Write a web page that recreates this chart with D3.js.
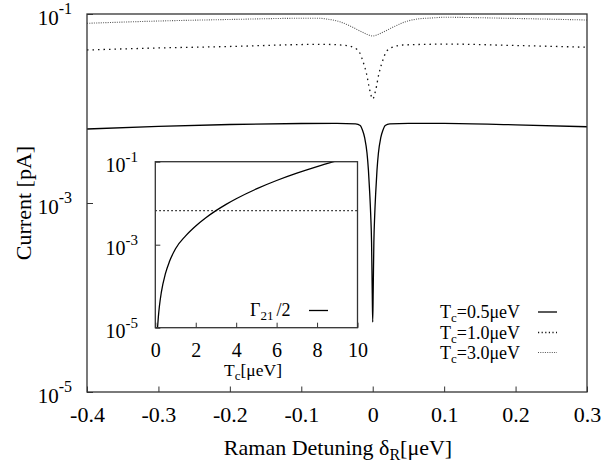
<!DOCTYPE html>
<html><head><meta charset="utf-8">
<script src="https://cdn.jsdelivr.net/npm/d3@7"></script>
<style>
body{margin:0;background:#fff}
svg text{font-family:"Liberation Serif","LiberationSerif","Tinos","DejaVu Serif","Noto Serif",serif !important;fill:#000}
</style>
</head><body>
<svg id="c" width="603" height="466"></svg>
<script>
// ---------- data ----------
const xTicks = [-0.4,-0.3,-0.2,-0.1,0,0.1,0.2,0.3];
const xTickLabels = ["-0.4","-0.3","-0.2","-0.1","0","0.1","0.2","0.3"];
const yTickExps = [-1,-3,-5];

const detuning05 = [-0.4,-0.3,-0.2,-0.1,-0.05,-0.024,-0.0175,-0.0144,-0.0112,-0.008,-0.006,-0.0042,-0.0028,-0.0016,-0.0007,0,
                    0.0007,0.0016,0.0028,0.0042,0.006,0.008,0.0112,0.0144,0.0175,0.024,0.05,0.1,0.2,0.3];
const current05  = [0.00607,0.00646,0.00677,0.00694,0.00697,0.00686,0.00661,0.00592,0.00488,0.00338,0.00223,0.00128,0.000746,0.000378,0.00012,0.000055,
                    0.00012,0.000378,0.000746,0.00128,0.00223,0.00338,0.00488,0.00592,0.00661,0.00686,0.00697,0.00697,0.00672,0.00641];

const detuning10 = [-0.4,-0.3,-0.2,-0.1,-0.074,-0.042,-0.0259,-0.0178,-0.014,-0.0086,-0.0042,0,
                    0.0042,0.0086,0.014,0.0178,0.0259,0.042,0.08,0.1,0.2,0.3];
const current10  = [0.0416,0.0437,0.0453,0.0475,0.0478,0.0468,0.0440,0.0384,0.0321,0.0232,0.0157,0.0126,
                    0.0157,0.0232,0.0321,0.0384,0.0440,0.0470,0.0478,0.0481,0.0464,0.0445];

const detuning30 = [-0.4,-0.3,-0.2,-0.1,-0.074,-0.065,-0.046,-0.0298,-0.0158,-0.0075,0,
                    0.0075,0.0158,0.0298,0.046,0.065,0.08,0.1,0.2,0.3];
const current30  = [0.0797,0.0843,0.0875,0.0901,0.0901,0.0885,0.0829,0.0734,0.0650,0.0607,0.0585,
                    0.0607,0.0650,0.0734,0.0829,0.0890,0.0905,0.0923,0.0897,0.0864];

const seriesNames = ["0.5","1.0","3.0"];

// inset
const insetXTicks = [0,2,4,6,8,10];
const insetYTickExps = [-1,-3,-5];
const insetTc   = [0.11,0.15,0.2,0.3,0.5,0.7,1.0,1.5,2.0,2.5,3.0,3.5,4.0,5.0,6.0,7.0,8.0,8.82,9.5];
const insetRate = [1.0e-5,1.8e-5,3.2e-5,7.2e-5,2.0e-4,3.92e-4,8.0e-4,1.63e-3,2.82e-3,4.46e-3,6.61e-3,9.37e-3,
                   1.28e-2,2.21e-2,3.52e-2,5.29e-2,7.62e-2,0.1,0.124];
const gammaTc   = [0,10];
const gammaHalf = [0.0066,0.0066];

// ---------- drawing ----------
const svg = d3.select("#c");
const L=87,R=587,T=14,B=392;
const x = d3.scaleLinear().domain([-0.4,0.3]).range([L,R]);
const y = d3.scaleLog().domain([1e-5,1e-1]).range([B,T]);

svg.append("defs").append("clipPath").attr("id","mainclip")
  .append("rect").attr("x",L).attr("y",T).attr("width",R-L).attr("height",B-T);

const styles = [
  {dash:null, color:"#000", w:1.3},
  {dash:"1.5,4", color:"#111", w:1.3},
  {dash:"1,1.3", color:"#555", w:1.1}
];
const legendDash = [null,"1.2,2.4","1,1.3"];

const line = d3.line().x(d=>x(d[0])).y(d=>y(d[1])).curve(d3.curveMonotoneX);
const series = [
  d3.zip(detuning05,current05),
  d3.zip(detuning10,current10),
  d3.zip(detuning30,current30)
];
const g = svg.append("g").attr("clip-path","url(#mainclip)");
series.forEach((s,i)=>{
  g.append("path").attr("d",line(s)).attr("fill","none")
   .attr("stroke",styles[i].color).attr("stroke-width",styles[i].w)
   .attr("stroke-dasharray",styles[i].dash);
});

// x axis
const xAxis = d3.axisBottom(x).tickValues(xTicks).tickFormat((d,i)=>xTickLabels[i])
  .tickSizeInner(-5.5).tickSizeOuter(0).tickPadding(14);
const gx = svg.append("g").attr("transform",`translate(0,${B})`).call(xAxis);
gx.attr("font-family",null);
gx.select(".domain").remove();
gx.selectAll("line").attr("stroke","#333");
gx.selectAll("text").attr("font-size",22);

// y axis ticks
const yAxis = d3.axisLeft(y).tickValues(yTickExps.map(e=>Math.pow(10,e))).tickFormat("")
  .tickSizeInner(-6).tickSizeOuter(0);
const gy = svg.append("g").attr("transform",`translate(${L},0)`).call(yAxis);
gy.select(".domain").remove();
gy.selectAll("line").attr("stroke","#333");

function powLabel(parent, xr, yb, e, fs, sfs){
  const t = parent.append("text").attr("x",xr).attr("y",yb).attr("text-anchor","end")
     .attr("font-size",fs);
  t.append("tspan").text("10");
  t.append("tspan").attr("font-size",sfs).attr("dy",-fs*0.48).text(String(e));
}
yTickExps.forEach(e=>powLabel(svg,72,y(Math.pow(10,e))+10.5,e,21,16));

// frame
svg.append("rect").attr("x",L).attr("y",T).attr("width",R-L).attr("height",B-T)
  .attr("fill","none").attr("stroke","#333").attr("stroke-width",1.3);

// axis titles
const xt = svg.append("text").attr("x",338).attr("y",455).attr("text-anchor","middle").attr("font-size",22);
xt.append("tspan").text("Raman Detuning δ");
xt.append("tspan").attr("font-size",16).attr("dy",5).text("R");
xt.append("tspan").attr("dy",-5).text("[μeV]");

svg.append("text").attr("transform","translate(30.5,203) rotate(-90)")
  .attr("text-anchor","middle").attr("font-size",22).text("Current [pA]");

// legend
const legY = [318,338.5,358.5];
seriesNames.forEach((n,i)=>{
  const t = svg.append("text").attr("x",440).attr("y",legY[i]).attr("font-size",18);
  t.append("tspan").text("T");
  t.append("tspan").attr("font-size",13).attr("dy",4).text("c");
  t.append("tspan").attr("dy",-4).text("="+n+"μeV");
  svg.append("line").attr("x1",538).attr("x2",557).attr("y1",legY[i]-6).attr("y2",legY[i]-6)
    .attr("stroke",styles[i].color).attr("stroke-width",styles[i].w)
    .attr("stroke-dasharray",legendDash[i]);
});

// ---------- inset ----------
const IL=155.3, IR=357.5, IT=161.7, IB=327.7;
const x2 = d3.scaleLinear().domain([0,10]).range([IL,IR]);
const y2 = d3.scaleLog().domain([1e-5,1e-1]).range([IB,IT]);
svg.append("rect").attr("x",IL).attr("y",IT).attr("width",IR-IL).attr("height",IB-IT)
  .attr("fill","#fff");
svg.append("defs").append("clipPath").attr("id","insclip")
  .append("rect").attr("x",IL).attr("y",IT).attr("width",IR-IL).attr("height",IB-IT);
const gi = svg.append("g").attr("clip-path","url(#insclip)");
const line2 = d3.line().x(d=>x2(d[0])).y(d=>y2(d[1])).curve(d3.curveMonotoneX);
gi.append("path").attr("d",line2(d3.zip(gammaTc,gammaHalf))).attr("fill","none")
  .attr("stroke","#111").attr("stroke-width",1.2).attr("stroke-dasharray","1.5,2.5");
gi.append("path").attr("d",line2(d3.zip(insetTc,insetRate))).attr("fill","none")
  .attr("stroke","#000").attr("stroke-width",1.3);

const ix = d3.axisBottom(x2).tickValues(insetXTicks).tickFormat(d3.format("d"))
  .tickSizeInner(-5).tickSizeOuter(0).tickPadding(15.5);
const gix = svg.append("g").attr("transform",`translate(0,${IB})`).call(ix);
gix.attr("font-family",null);
gix.select(".domain").remove();
gix.selectAll("line").attr("stroke","#333");
gix.selectAll("text").attr("font-size",20);

const iy = d3.axisLeft(y2).tickValues(insetYTickExps.map(e=>Math.pow(10,e))).tickFormat("")
  .tickSizeInner(-5).tickSizeOuter(0);
const giy = svg.append("g").attr("transform",`translate(${IL},0)`).call(iy);
giy.select(".domain").remove();
giy.selectAll("line").attr("stroke","#333");
insetYTickExps.forEach(e=>powLabel(svg,138,y2(Math.pow(10,e))+10,e,20,15));

svg.append("rect").attr("x",IL).attr("y",IT).attr("width",IR-IL).attr("height",IB-IT)
  .attr("fill","none").attr("stroke","#333").attr("stroke-width",1.3);

const ixt = svg.append("text").attr("x",253).attr("y",375.5).attr("text-anchor","middle").attr("font-size",17.5);
ixt.append("tspan").text("T");
ixt.append("tspan").attr("font-size",13).attr("dy",4).text("c");
ixt.append("tspan").attr("dy",-4).text("[μeV]");

const il = svg.append("text").attr("x",250).attr("y",315.7).attr("font-size",18);
il.append("tspan").text("Γ");
il.append("tspan").attr("font-size",13).attr("dy",4).text("21");
il.append("tspan").attr("dy",-4).attr("dx",3).text("/2");
svg.append("line").attr("x1",309).attr("x2",328).attr("y1",310.5).attr("y2",310.5)
  .attr("stroke","#000").attr("stroke-width",1.3);
</script>
</body></html>
